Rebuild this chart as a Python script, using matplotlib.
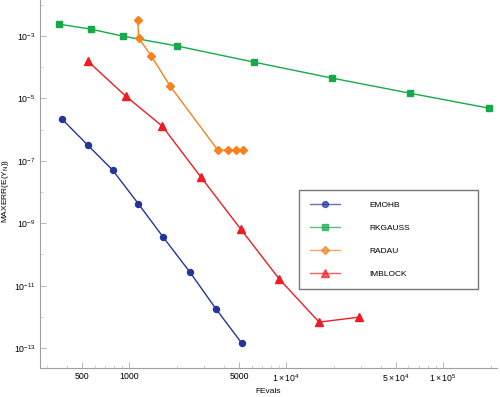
import matplotlib
matplotlib.use("Agg")
import matplotlib.pyplot as plt
from matplotlib.ticker import FixedLocator, FixedFormatter, NullFormatter

plt.rcParams['font.family'] = ['Liberation Sans', 'DejaVu Sans']
plt.rcParams['mathtext.fontset'] = 'custom'
plt.rcParams['mathtext.rm'] = 'Liberation Sans'
plt.rcParams['mathtext.it'] = 'Liberation Sans'

# data
emohb_x = [371, 542, 780, 1140, 1640, 2430, 3560, 5190]
emohb_y = [2.2e-6, 3.2e-7, 5.1e-8, 4.2e-9, 3.6e-10, 2.7e-11, 1.8e-12, 1.45e-13]

rkgauss_x = [356, 566, 903, 2010, 6180, 19540, 61000, 195000]
rkgauss_y = [2.4e-3, 1.67e-3, 1.0e-3, 4.8e-4, 1.47e-4, 4.5e-5, 1.48e-5, 4.9e-6]

radau_x = [1130, 1145, 1378, 1815, 3660, 4240, 4760, 5270]
radau_y = [3.3e-3, 8.6e-4, 2.3e-4, 2.5e-5, 2.2e-7, 2.2e-7, 2.2e-7, 2.2e-7]

imblock_x = [542, 944, 1618, 2855, 5120, 9040, 16180, 28980]
imblock_y = [1.58e-4, 1.2e-5, 1.3e-6, 3.0e-8, 6.5e-10, 1.6e-11, 6.8e-13, 9.8e-13]

x_ticks = [500, 1000, 5000, 1e4, 5e4, 1e5]
x_ticklabels = ['500', '1000', '5000', r'$1\times10^{4}$', r'$5\times10^{4}$', r'$1\times10^{5}$']
y_ticks = [1e-3, 1e-5, 1e-7, 1e-9, 1e-11, 1e-13]
y_ticklabels = [r'$10^{-3}$', r'$10^{-5}$', r'$10^{-7}$', r'$10^{-9}$', r'$10^{-11}$', r'$10^{-13}$']

fig = plt.figure(figsize=(5.0, 3.97), dpi=100)
ax = fig.add_axes([0.08, 0.073, 0.914, 0.927])

lw = 1.0
ax.plot(emohb_x, emohb_y, color='#24359A', lw=lw, marker='o', ms=4.3, label='EMOHB')
ax.plot(rkgauss_x, rkgauss_y, color='#16A94A', lw=lw, marker='s', ms=4.3, label='RKGAUSS')
ax.plot(radau_x, radau_y, color='#F5821F', lw=lw, marker='D', ms=4.3, label='RADAU')
ax.plot(imblock_x, imblock_y, color='#EE1D24', lw=lw, marker='^', ms=6, label='IMBLOCK')

ax.set_xscale('log')
ax.set_yscale('log')
ax.set_xlim(269, 2.2e5)
ax.set_ylim(2.3e-14, 1.43e-2)

ax.xaxis.set_major_locator(FixedLocator(x_ticks))
ax.xaxis.set_major_formatter(FixedFormatter(x_ticklabels))
minor_x = [m * 10 ** e for e in range(2, 6) for m in range(2, 10)]
ax.xaxis.set_minor_locator(FixedLocator([v for v in minor_x if v not in x_ticks]))
ax.xaxis.set_minor_formatter(NullFormatter())

ax.yaxis.set_major_locator(FixedLocator(y_ticks))
ax.yaxis.set_major_formatter(FixedFormatter(y_ticklabels))
ax.yaxis.set_minor_locator(FixedLocator([1e-2, 1e-4, 1e-6, 1e-8, 1e-10, 1e-12, 1e-14]))
ax.yaxis.set_minor_formatter(NullFormatter())

for s in ['top', 'right']:
    ax.spines[s].set_visible(False)
for s in ['left', 'bottom']:
    ax.spines[s].set_color('#A0A0A0')
    ax.spines[s].set_linewidth(0.8)
ax.tick_params(which='major', direction='in', length=4, width=0.6, color='#B0B0B0',
               labelsize=6.3, pad=3)
ax.tick_params(which='minor', direction='in', length=2.5, width=0.5, color='#C0C0C0')

ax.set_xlabel('FEvals', fontsize=6, labelpad=3)
ax.set_ylabel(r'MAXERR(E(Y$_{\mathrm{N}}$))', fontsize=6, labelpad=1)
ax.yaxis.set_label_coords(-0.064, 0.48)

leg = ax.legend(loc='upper left', bbox_to_anchor=(0.567, 0.215, 0.392, 0.269),
                mode='expand', fontsize=6, frameon=True, fancybox=False,
                handlelength=3.6, handletextpad=3.5, labelspacing=1.85,
                borderpad=1.3, borderaxespad=0)
leg.get_frame().set_edgecolor('#555555')
leg.get_frame().set_linewidth(1.0)
for h in leg.legend_handles:
    h.set_alpha(0.7)

fig.savefig('out.png', dpi=100)
